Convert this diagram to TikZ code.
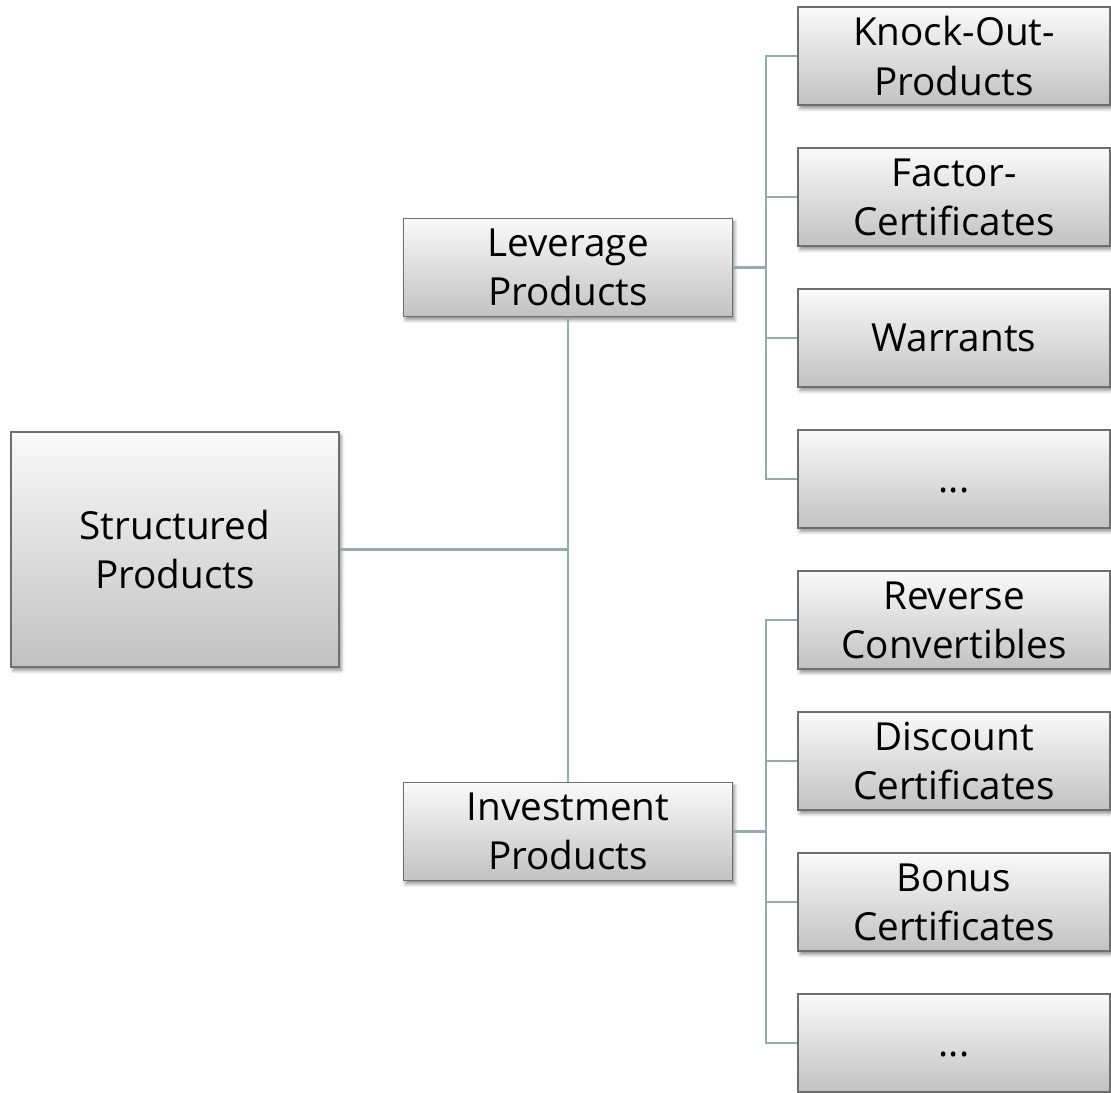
\documentclass[tikz,border=0pt]{standalone}
\usepackage{fontspec}
\setmainfont{Open Sans}
\usetikzlibrary{shadows.blur}

\definecolor{linkgray}{RGB}{150,172,172}
\definecolor{boxedge}{RGB}{110,110,110}

\tikzset{
	prodbox/.style = {draw = boxedge, line width = 0.85pt, rectangle, align = center,
		top color = black!2, bottom color = black!24,
		blur shadow = {shadow xshift = 0.04cm, shadow yshift = -0.07cm,
			shadow blur radius = 0.07cm, shadow opacity = 45},
		font = \fontsize{22}{28}\selectfont},
	leafbox/.style = {prodbox, minimum width = 6.24cm, minimum height = 1.96cm},
	midbox/.style = {prodbox, minimum width = 6.58cm, minimum height = 1.96cm},
	link/.style = {draw = linkgray, line width = 1.2pt}
}

\begin{document}
\begin{tikzpicture}
	
	\useasboundingbox (0,0) rectangle (22.22,21.84);
	
	% root
	\node[prodbox, minimum width = 6.56cm, minimum height = 4.7cm] (root) at (3.5,10.85) {Structured\\Products};
	
	% middle level
	\node[midbox] (lev) at (11.36,16.49) {Leverage\\Products};
	\node[midbox] (inv) at (11.36,5.21) {Investment\\Products};
	
	% leaves
	\node[leafbox] (ko)  at (19.08,20.72) {Knock-Out-\\Products};
	\node[leafbox] (fac) at (19.08,17.90) {Factor-\\Certificates};
	\node[leafbox] (war) at (19.08,15.08) {Warrants};
	\node[leafbox] (levmore) at (19.08,12.26) {\vphantom{W}...};
	
	\node[leafbox] (rev) at (19.08,9.44) {Reverse\\Convertibles};
	\node[leafbox] (dis) at (19.08,6.62) {Discount\\Certificates};
	\node[leafbox] (bon) at (19.08,3.80) {Bonus\\Certificates};
	\node[leafbox] (invmore) at (19.08,0.98) {\vphantom{W}...};
	
	% links root
	\draw[link] (root.east) -- (root.east -| lev.south);
	\draw[link] (lev.south) -- (inv.north);
	
	% links leverage
	\foreach \leaf in {ko, fac, war, levmore}
		\draw[link] (lev.east) -- ([xshift = 0.65cm]lev.east) |- (\leaf.west);
	
	% links investment
	\foreach \leaf in {rev, dis, bon, invmore}
		\draw[link] (inv.east) -- ([xshift = 0.65cm]inv.east) |- (\leaf.west);
	
\end{tikzpicture}
\end{document}
